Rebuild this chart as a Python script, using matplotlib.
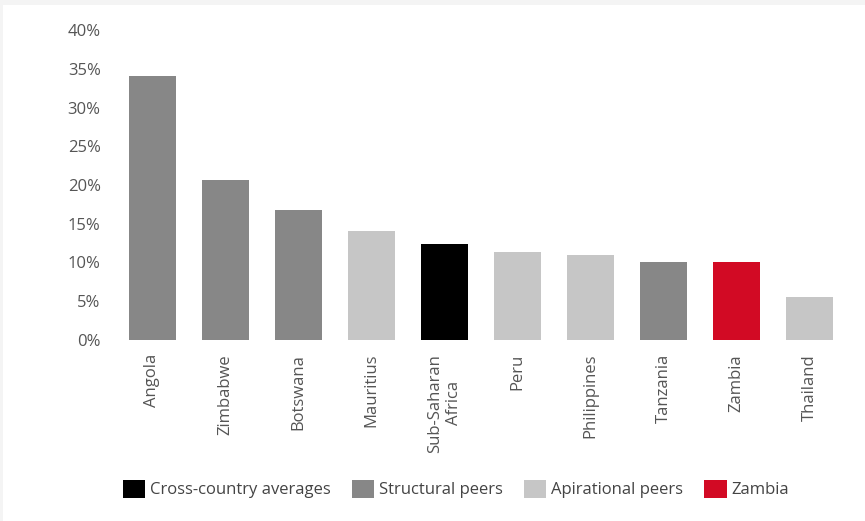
import matplotlib.pyplot as plt
from matplotlib.patches import Patch, Rectangle
import numpy as np

plt.rcParams['font.family'] = ['Open Sans', 'DejaVu Sans']

# values (% of GDP) per country, grouped by peer type
countries = ['Angola', 'Zimbabwe', 'Botswana', 'Mauritius', 'Sub-Saharan\nAfrica',
             'Peru', 'Philippines', 'Tanzania', 'Zambia', 'Thailand']
values = [34.1, 20.6, 16.8, 14.1, 12.4, 11.4, 11.0, 10.1, 10.1, 5.5]
groups = ['Structural peers', 'Structural peers', 'Structural peers', 'Apirational peers',
          'Cross-country averages', 'Apirational peers', 'Apirational peers',
          'Structural peers', 'Zambia', 'Apirational peers']

group_colors = {
    'Cross-country averages': '#000000',
    'Structural peers': '#878787',
    'Apirational peers': '#c6c6c6',
    'Zambia': '#d20a24',
}
legend_order = ['Cross-country averages', 'Structural peers', 'Apirational peers', 'Zambia']

W, H = 865, 521
fig = plt.figure(figsize=(W / 100, H / 100), dpi=100, facecolor='#f4f4f4')
# white panel inside the light grey frame
fig.patches.append(Rectangle((3 / W, 0), 1 - 3 / W, 1 - 5 / H, transform=fig.transFigure,
                             facecolor='white', edgecolor='none', zorder=-5))

ax = fig.add_axes([116 / W, (H - 340) / H, (846 - 116) / W, (340 - 30) / H])
ax.set_facecolor('none')
ax.set_zorder(2)

x = np.arange(len(countries))
ax.bar(x, values, width=0.64, color=[group_colors[g] for g in groups])

ax.set_xlim(-0.5, len(countries) - 0.5)
ax.set_ylim(0, 40)
ax.set_yticks(np.arange(0, 41, 5))
ax.set_yticklabels([f'{v}%' for v in range(0, 41, 5)])
ax.set_xticks(x)
ax.set_xticklabels(countries, rotation=90, ha='center', va='top', multialignment='center')

for s in ax.spines.values():
    s.set_visible(False)
ax.tick_params(axis='both', length=0, labelsize=12, labelcolor='#555555')
ax.tick_params(axis='y', pad=11)
ax.tick_params(axis='x', pad=10)

handles = [Patch(facecolor=group_colors[g], edgecolor='none', label=g) for g in legend_order]
leg = fig.legend(handles=handles, loc='center', bbox_to_anchor=(456 / W, (H - 489) / H), ncol=4,
                 frameon=False, fontsize=12, labelcolor='#444444', handlelength=1.35,
                 handleheight=1.35, handletextpad=0.3, columnspacing=1.25)
leg.set_zorder(3)

fig.savefig('out.png', dpi=100, facecolor=fig.get_facecolor())
